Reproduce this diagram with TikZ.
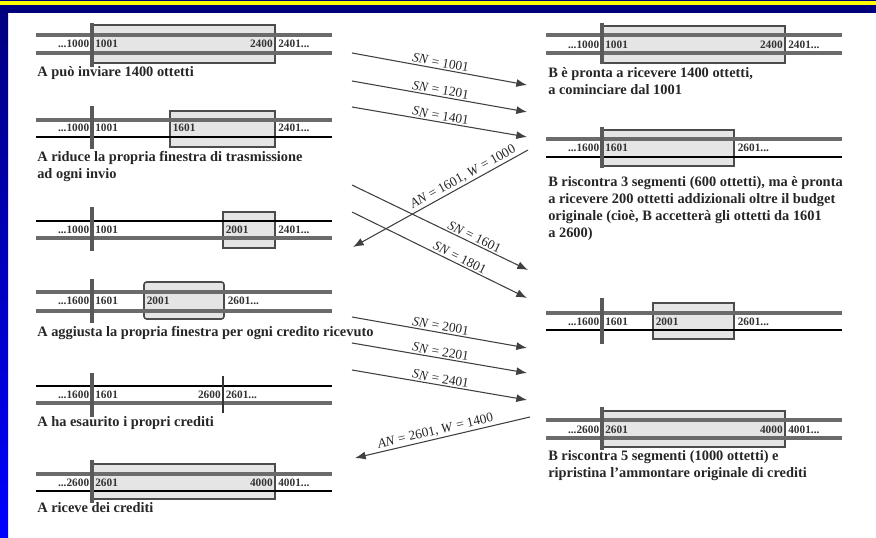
\documentclass[tikz,border=0pt]{standalone}
\usepackage{fontspec}
\setmainfont{Liberation Serif}
\usetikzlibrary{arrows.meta}

\definecolor{navy}{RGB}{0,0,125}
\definecolor{slideblue}{RGB}{0,0,255}
\definecolor{slideyellow}{RGB}{255,255,0}

\tikzset{
  seqline/.style={line width=2.6pt,black!58},
  ackline/.style={line width=1.1pt,black},
  pointer/.style={line width=3pt,black!65},
  winbox/.style={draw=black!70,line width=1.2pt,fill=black!10},
  num/.style={font=\fontsize{8.5}{9}\selectfont\bfseries,inner sep=0.4pt,text=black!80},
  caption/.style={font=\fontsize{10.8}{12.75}\selectfont\bfseries,align=left,anchor=west,inner sep=0pt,text=black!85},
  msg/.style={-{Latex[length=8pt,width=6pt]},line width=0.8pt,black!75},
  ackmsg/.style={{Latex[length=8pt,width=6pt]}-,line width=0.8pt,black!75},
  seglabel/.style={font=\fontsize{10}{10}\selectfont,sloped,above,inner sep=1.2pt,text=black!85}
}

\begin{document}
\begin{tikzpicture}[x=0.75pt,y=-0.75pt]
\useasboundingbox (0,0) rectangle (876,538);
\shade[top color=navy,bottom color=slideblue] (0,0) rectangle (8,538);
\fill[navy] (0,0) rectangle (876,13);
\fill[slideyellow] (0,1.5) rectangle (876,5.5);

% A, panel 1
\filldraw[winbox] (93,25) rectangle (275,63);
\draw[seqline] (36,35) -- (332,35);
\draw[seqline] (36,53) -- (332,53);
\draw[pointer] (92,23) -- (92,67);
\node[num,anchor=east] (l1a) at (90,44) {...1000};
\node[num,anchor=west] (l1b) at (94.5,44) {1001};
\node[num,anchor=east] (l1c) at (273.5,44) {2400};
\node[num,anchor=west] (l1d) at (277.5,44) {2401...};
\node[caption] (c1) at (37,73) {A può inviare 1400 ottetti};

% A, panel 2
\filldraw[winbox] (170,111) rectangle (275,147);
\draw[seqline] (36,120) -- (332,120);
\draw[ackline] (36,137) -- (332,137);
\draw[pointer] (92,106) -- (92,149);
\node[num,anchor=east] (l2a) at (90,128) {...1000};
\node[num,anchor=west] (l2b) at (94.5,128) {1001};
\node[num,anchor=west] (l2c) at (172,128) {1601};
\node[num,anchor=west] (l2d) at (277.5,128) {2401...};
\node[caption] (c2) at (37,166.5) {A riduce la propria finestra di trasmissione\\ad ogni invio};

% A, panel 3
\filldraw[winbox] (223,212) rectangle (275,248);
\draw[ackline] (36,221) -- (332,221);
\draw[seqline] (36,238) -- (332,238);
\draw[pointer] (92,207) -- (92,251);
\node[num,anchor=east] (l3a) at (90,230) {...1000};
\node[num,anchor=west] (l3b) at (94.5,230) {1001};
\node[num,anchor=west] (l3c) at (225,230) {2001};
\node[num,anchor=west] (l3d) at (277.5,230) {2401...};

% A, panel 4
\filldraw[winbox,rounded corners=2pt] (144,282) rectangle (224,319);
\draw[seqline] (36,292) -- (332,292);
\draw[seqline] (36,311) -- (332,311);
\draw[pointer] (92,279) -- (92,323);
\node[num,anchor=east] (l4a) at (90,301) {...1600};
\node[num,anchor=west] (l4b) at (94.5,301) {1601};
\node[num,anchor=west] (l4c) at (146,301) {2001};
\node[num,anchor=west] (l4d) at (227,301) {2601...};
\node[caption] (c4) at (37,333) {A aggiusta la propria finestra per ogni credito ricevuto};

% A, panel 5
\draw[ackline] (36,386) -- (332,386);
\draw[seqline] (36,403) -- (332,403);
\draw[pointer] (92,373) -- (92,417);
\draw[line width=1pt,black!80] (223,376) -- (223,413);
\node[num,anchor=east] (l5a) at (90,395) {...1600};
\node[num,anchor=west] (l5b) at (94.5,395) {1601};
\node[num,anchor=east] (l5c) at (221.5,395) {2600};
\node[num,anchor=west] (l5d) at (225,395) {2601...};
\node[caption] (c5) at (37,423) {A ha esaurito i propri crediti};

% A, panel 6
\filldraw[winbox] (93,464) rectangle (275,499);
\draw[seqline] (36,474) -- (332,474);
\draw[ackline] (36,491) -- (332,491);
\draw[pointer] (92,460) -- (92,503);
\node[num,anchor=east] (l6a) at (90,483) {...2600};
\node[num,anchor=west] (l6b) at (94.5,483) {2601};
\node[num,anchor=east] (l6c) at (273.5,483) {4000};
\node[num,anchor=west] (l6d) at (277.5,483) {4001...};
\node[caption] (c6) at (37,508) {A riceve dei crediti};

% B, panel 1
\filldraw[winbox] (603,26) rectangle (785,63);
\draw[seqline] (546,35) -- (842,35);
\draw[seqline] (546,53) -- (842,53);
\draw[pointer] (602,23) -- (602,64);
\node[num,anchor=east] (r1a) at (600,45) {...1000};
\node[num,anchor=west] (r1b) at (604.5,45) {1001};
\node[num,anchor=east] (r1c) at (783.5,45) {2400};
\node[num,anchor=west] (r1d) at (787.5,45) {2401...};
\node[caption] (d1) at (548,81) {B è pronta a ricevere 1400 ottetti,\\a cominciare dal 1001};

% B, panel 2
\filldraw[winbox] (603,130) rectangle (734,166);
\draw[seqline] (546,139) -- (842,139);
\draw[ackline] (546,157) -- (842,157);
\draw[pointer] (602,127) -- (602,168);
\node[num,anchor=east] (r2a) at (600,148) {...1600};
\node[num,anchor=west] (r2b) at (604.5,148) {1601};
\node[num,anchor=west] (r2c) at (737,148) {2601...};
\node[caption] (d2) at (548,209) {B riscontra 3 segmenti (600 ottetti), ma è pronta\\a ricevere 200 ottetti addizionali oltre il budget\\originale (cioè, B accetterà gli ottetti da 1601\\a 2600)};

% B, panel 3
\filldraw[winbox] (653,303) rectangle (734,339);
\draw[seqline] (546,313) -- (842,313);
\draw[ackline] (546,330) -- (842,330);
\draw[pointer] (602,298) -- (602,344);
\node[num,anchor=east] (r3a) at (600,322) {...1600};
\node[num,anchor=west] (r3b) at (604.5,322) {1601};
\node[num,anchor=west] (r3c) at (655,322) {2001};
\node[num,anchor=west] (r3d) at (737,322) {2601...};

% B, panel 4
\filldraw[winbox] (603,411) rectangle (785,447);
\draw[seqline] (546,420) -- (842,420);
\draw[seqline] (546,438) -- (842,438);
\draw[pointer] (602,407) -- (602,450);
\node[num,anchor=east] (r4a) at (600,430) {...2600};
\node[num,anchor=west] (r4b) at (604.5,430) {2601};
\node[num,anchor=east] (r4c) at (783.5,430) {4000};
\node[num,anchor=west] (r4d) at (787.5,430) {4001...};
\node[caption] (d4) at (548,466) {B riscontra 5 segmenti (1000 ottetti) e\\ripristina l'ammontare originale di crediti};

% segments and acks
\coordinate (s1a) at (352,53);  \coordinate (s1b) at (527,85);
\coordinate (s2a) at (352,81);  \coordinate (s2b) at (527,112);
\coordinate (s3a) at (352,107); \coordinate (s3b) at (527,137);
\coordinate (k1a) at (353,247); \coordinate (k1b) at (528,150);
\coordinate (s4a) at (352,185); \coordinate (s4b) at (528,270);
\coordinate (s5a) at (352,212); \coordinate (s5b) at (527,298);
\coordinate (s6a) at (352,317); \coordinate (s6b) at (527,348);
\coordinate (s7a) at (352,343); \coordinate (s7b) at (527,373);
\coordinate (s8a) at (352,370); \coordinate (s8b) at (527,400);
\coordinate (k2a) at (355,458); \coordinate (k2b) at (530,417);

\draw[msg] (s1a) -- node[seglabel] {\textit{SN} = 1001} (s1b);
\draw[msg] (s2a) -- node[seglabel] {\textit{SN} = 1201} (s2b);
\draw[msg] (s3a) -- node[seglabel] {\textit{SN} = 1401} (s3b);
\draw[ackmsg] (k1a) -- node[seglabel,pos=0.65] {\textit{AN} = 1601, \textit{W} = 1000} (k1b);
\draw[msg] (s4a) -- node[seglabel,pos=0.68] {\textit{SN} = 1601} (s4b);
\draw[msg] (s5a) -- node[seglabel,pos=0.6] {\textit{SN} = 1801} (s5b);
\draw[msg] (s6a) -- node[seglabel] {\textit{SN} = 2001} (s6b);
\draw[msg] (s7a) -- node[seglabel] {\textit{SN} = 2201} (s7b);
\draw[msg] (s8a) -- node[seglabel] {\textit{SN} = 2401} (s8b);
\draw[ackmsg] (k2a) -- node[seglabel,pos=0.47] {\textit{AN} = 2601, \textit{W} = 1400} (k2b);
\end{tikzpicture}
\end{document}
